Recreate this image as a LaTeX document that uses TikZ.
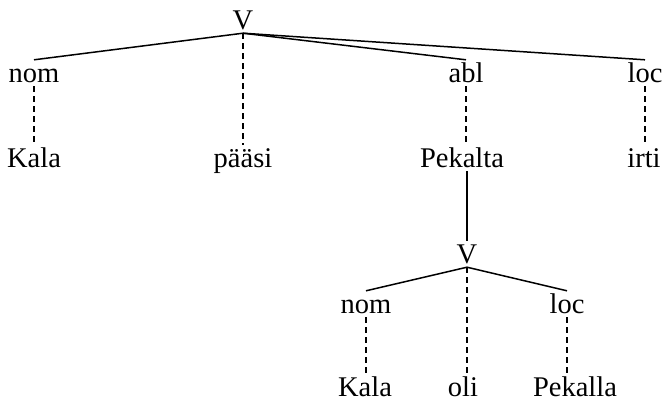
\documentclass[tikz,border=0pt]{standalone}
\usepackage{fontspec}
\setmainfont{Liberation Serif}
\usetikzlibrary{positioning}
\tikzset{
    lbl/.style={inner sep=0pt, anchor=base, text height=22pt, text depth=4pt,
                font=\fontsize{28.5}{31}\selectfont},
    arc/.style={line width=1.5pt},
    lexline/.style={line width=1.5pt, dash pattern=on 6pt off 4pt}
}

\begin{document}
\begin{tikzpicture}[x=1pt, y=-1pt]
            \useasboundingbox (0,0) rectangle (663,402);

            % Upper clause
            \node[lbl] (v1) at (243,29) {V};
            \node[lbl] (nom1) at (34,82) {nom};
            \node[lbl] (abl1) at (466,82) {abl};
            \node[lbl] (loc1) at (645,82) {loc};

            \node[lbl] (kala1) at (34,167) {Kala};
            \node[lbl] (paasi) at (243,167) {pääsi};
            \node[lbl] (pekalta) at (462,167) {Pekalta};
            \node[lbl] (irti) at (644,167) {irti};

            \draw[arc] (v1.south) -- (nom1.north);
            \draw[arc] (v1.south) -- (abl1.north);
            \draw[arc] (v1.south) -- (loc1.north);

            \draw[lexline] (nom1.south) -- (kala1.north);
            \draw[lexline] (v1.south) -- (paasi.north);
            \draw[lexline] (abl1.south) -- (abl1.south |- pekalta.north);
            \draw[lexline] (loc1.south) -- (loc1.south |- irti.north);

            % Embedded clause
            \node[lbl] (v2) at (467,263) {V};
            \node[lbl] (nom2) at (366,313) {nom};
            \node[lbl] (loc2) at (567,313) {loc};

            \node[lbl] (kala2) at (365,396) {Kala};
            \node[lbl] (oli) at (463,396) {oli};
            \node[lbl] (pekalla) at (575,396) {Pekalla};

            \draw[arc] (v2.north |- pekalta.south) -- (v2.north);
            \draw[arc] (v2.south) -- (nom2.north);
            \draw[arc] (v2.south) -- (loc2.north);

            \draw[lexline] (nom2.south) -- (nom2.south |- kala2.north);
            \draw[lexline] (v2.south) -- (v2.south |- oli.north);
            \draw[lexline] (loc2.south) -- (loc2.south |- pekalla.north);
\end{tikzpicture}
\end{document}
